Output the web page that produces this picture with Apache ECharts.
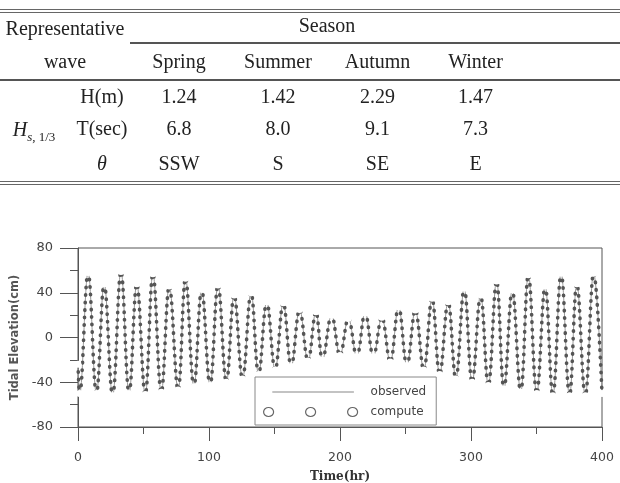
<!DOCTYPE html>
<html>
<head>
<meta charset="utf-8">
<script src="https://cdn.jsdelivr.net/npm/echarts@6/dist/echarts.min.js"></script>
<style>
  html, body { margin: 0; padding: 0; background: #fff; }
  #wrap { position: relative; width: 620px; height: 483px; overflow: hidden; }
  #chart { position: absolute; left: 0; top: 0; width: 620px; height: 483px; }
  #tbl {
    position: absolute; left: 0; top: 9px; width: 620px;
    border-collapse: collapse; table-layout: fixed;
    font-family: "Liberation Serif", "Times New Roman", serif; font-size: 20px; color: #222;
  }
  #tbl td { padding: 0; text-align: center; vertical-align: middle; white-space: nowrap; }
  #tbl tr.top td { border-top: 4px double #666; }
  #tbl td.rule { border-bottom: 2px solid #555; }
  #tbl tr.bottom td, #tbl td.hs { border-bottom: 4px double #666; }
  #tbl td.lab { padding-left: 6px; }
  sub { font-size: 13px; vertical-align: -5px; }
</style>
</head>
<body>
<div id="wrap">
  <div id="chart"></div>
  <table id="tbl"></table>
</div>
<script>
// table contents
const seasons = ['Spring', 'Summer', 'Autumn', 'Winter'];
const rowLabels = ['H(m)', 'T(sec)', '<i>θ</i>'];
const waveHeight = ['1.24', '1.42', '2.29', '1.47'];
const wavePeriod = ['6.8', '8.0', '9.1', '7.3'];
const waveDir = ['SSW', 'S', 'SE', 'E'];

// high / low water (hours, cm)
const tideHours = [0, 1.3, 7.7, 14.1, 20.0, 26.4, 32.8, 39.0, 44.9, 51.3, 57.2, 63.6, 69.7, 76.4, 82.1,
  88.5, 94.4, 100.8, 106.9, 113.3, 119.2, 125.6, 132.1, 137.9, 144.1, 150.5, 156.7, 162.8, 169.2,
  175.6, 181.6, 186.7, 193.6, 200.0, 206.4, 212.8, 219.2, 225.5, 231.9, 238.3, 244.7, 251.1,
  257.5, 263.9, 270.2, 276.1, 282.5, 288.4, 294.8, 300.9, 307.3, 313.2, 319.5, 325.2, 331.5,
  337.9, 343.8, 350.2, 356.6, 362.5, 368.8, 375.2, 380.8, 387.2, 393.6, 400];
const tideCm = [-24, -50, 58, -50, 48, -52, 59, -50, 48, -51, 57, -49, 46, -47, 53,
  -44, 43, -43, 47, -40, 38, -37, 40, -33, 32, -29, 31, -26, 25,
  -21, 23, -20, 20, -16, 17, -17, 22, -17, 18, -22, 27.5, -25,
  24.5, -29, 35, -33, 32, -37, 44, -40, 38, -43, 50.5, -46, 42.5,
  -49, 56, -50, 46, -52, 57.4, -52, 48, -52, 57.4, -50];

const cols = [68, 62, 98, 100, 99, 97, 96];
let html = '<colgroup>' + cols.map(w => '<col style="width:' + w + 'px">').join('') + '</colgroup>';
html += '<tr class="top" style="height:32px"><td colspan="2">Representative</td>' +
  '<td colspan="4" class="rule" style="padding-bottom:4px">Season</td><td class="rule"></td></tr>';
html += '<tr style="height:37px"><td colspan="2" class="rule">wave</td>' +
  seasons.map(s => '<td class="rule">' + s + '</td>').join('') + '<td class="rule"></td></tr>';
const rows = [waveHeight, wavePeriod, waveDir];
const heights = [31, 35, 37];
rows.forEach((vals, i) => {
  html += '<tr' + (i === 2 ? ' class="bottom"' : '') + ' style="height:' + heights[i] + 'px">';
  if (i === 0) html += '<td rowspan="3" class="hs"><i>H</i><sub><i>s</i>, 1/3</sub></td>';
  html += '<td class="lab">' + rowLabels[i] + '</td>' + vals.map(v => '<td>' + v + '</td>').join('') + '<td></td></tr>';
});
document.getElementById('tbl').innerHTML = html;

const pts = tideHours.map((h, i) => [h, tideCm[i]]);
const axisColor = '#555';
const lblStyle = { fontFamily: 'DejaVu Sans', fontSize: 13, color: '#444' };

const obsIcon = 'path://M0,0L0.1,0L0,0.1Z M8.7,4.6L90.3,4.6L90.3,5.4L8.7,5.4Z M94,10L93.9,10L94,9.9Z';
const cmpIcon = 'path://M0,5a5,4.5 0 1,0 10,0a5,4.5 0 1,0 -10,0Z M42,5a5,4.5 0 1,0 10,0a5,4.5 0 1,0 -10,0Z M84,5a5,4.5 0 1,0 10,0a5,4.5 0 1,0 -10,0Z';

const chart = echarts.init(document.getElementById('chart'));
chart.setOption({
  animation: false,
  backgroundColor: '#fff',
  grid: { left: 78, right: 18, top: 248, bottom: 56, show: true, borderColor: axisColor, borderWidth: 1, outerBoundsMode: 'none' },
  xAxis: {
    type: 'value', min: 0, max: 400, interval: 100,
    name: 'Time(hr)', nameLocation: 'middle', nameGap: 44,
    nameTextStyle: { fontFamily: 'DejaVu Serif', fontWeight: 'bold', fontSize: 12, color: '#333' },
    axisLine: { onZero: false, lineStyle: { color: axisColor } },
    axisTick: { length: 14, lineStyle: { color: axisColor } },
    minorTick: { show: true, splitNumber: 2, length: 7, lineStyle: { color: axisColor } },
    axisLabel: Object.assign({ margin: 24 }, lblStyle, { fontSize: 12.5 }),
    splitLine: { show: false }
  },
  yAxis: {
    type: 'value', min: -80, max: 80, interval: 40,
    name: 'Tidal Elevation(cm)', nameLocation: 'middle', nameGap: 56,
    nameTextStyle: { fontFamily: 'DejaVu Sans', fontWeight: 'bold', fontSize: 11.5, color: '#555' },
    axisLine: { onZero: false, lineStyle: { color: axisColor } },
    axisTick: { length: 18, lineStyle: { color: axisColor } },
    minorTick: { show: true, splitNumber: 2, length: 8, lineStyle: { color: axisColor } },
    axisLabel: Object.assign({ margin: 25 }, lblStyle),
    splitLine: { show: false }
  },
  legend: {
    left: 255, top: 377, orient: 'vertical',
    itemWidth: 94, itemHeight: 10, itemGap: 8,
    padding: [9, 10, 7, 8],
    borderColor: '#888', borderWidth: 1, backgroundColor: '#fff',
    textStyle: Object.assign({}, lblStyle, { fontSize: 12, padding: [0, 0, 0, 8] }),
    data: [
      { name: 'observed', icon: obsIcon, itemStyle: { color: '#888', borderWidth: 0 } },
      { name: 'compute', icon: cmpIcon, itemStyle: { color: '#fff', borderColor: '#666', borderWidth: 1.2 } }
    ]
  },
  series: [
    {
      name: 'observed', type: 'line', data: pts, smooth: 0.4, symbol: 'none',
      lineStyle: { color: '#999', width: 1 }, z: 2
    },
    {
      name: 'compute', type: 'line', data: pts, smooth: 0.4,
      symbol: 'emptyCircle', symbolSize: 5, showAllSymbol: true,
      itemStyle: { color: '#fff', borderColor: '#333', borderWidth: 1.8 },
      lineStyle: { color: '#555', width: 3.6, type: [0.5, 7], cap: 'round' }, z: 3
    }
  ]
});
</script>
</body>
</html>
